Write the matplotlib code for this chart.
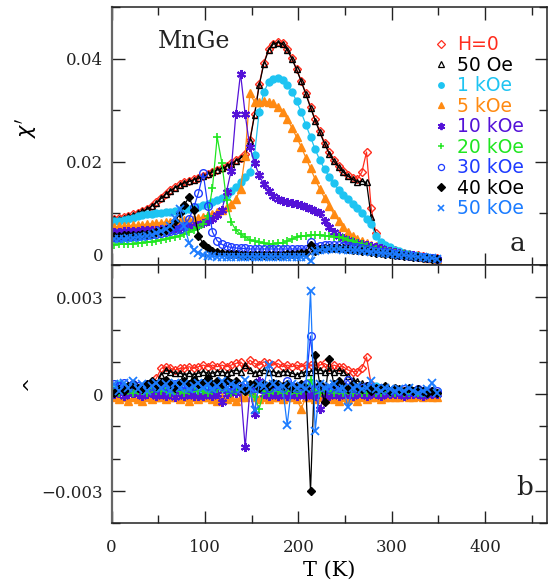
import numpy as np
import matplotlib
matplotlib.use("Agg")
import matplotlib.pyplot as plt
from matplotlib.lines import Line2D
from matplotlib.ticker import MultipleLocator, FixedLocator, FixedFormatter

# ---------------- data ----------------
T = [3, 8, 13, 18, 23, 28, 33, 38, 43, 48,
     53, 58, 63, 68, 73, 78, 83, 88, 93, 98,
     103, 108, 113, 118, 123, 128, 133, 138, 143, 148,
     153, 158, 163, 168, 173, 178, 183, 188, 193, 198,
     203, 208, 213, 218, 223, 228, 233, 238, 243, 248,
     253, 258, 263, 268, 273, 278, 283, 288, 293, 298,
     303, 308, 313, 318, 323, 328, 333, 338, 343, 348]

labels = ["H=0", "50 Oe", "1 kOe", "5 kOe", "10 kOe", "20 kOe", "30 kOe", "40 kOe", "50 kOe"]

# chi' (real part)
chi1_H0 = [0.0090, 0.0091, 0.0093, 0.0095, 0.0098, 0.0101, 0.0105, 0.0109, 0.0115, 0.0122,
           0.0130, 0.0138, 0.0145, 0.0151, 0.0156, 0.0160, 0.0163, 0.0166, 0.0169, 0.0173,
           0.0177, 0.0181, 0.0185, 0.0188, 0.0192, 0.0197, 0.0203, 0.0208, 0.0216, 0.0242,
           0.0292, 0.0350, 0.0392, 0.0418, 0.0429, 0.0432, 0.0430, 0.0418, 0.0401, 0.0380,
           0.0357, 0.0333, 0.0307, 0.0282, 0.0259, 0.0237, 0.0218, 0.0203, 0.0192, 0.0182,
           0.0174, 0.0168, 0.0166, 0.0180, 0.0219, 0.0110, 0.0062, 0.0043, 0.0036, 0.0032,
           0.0029, 0.0026, 0.0024, 0.0022, 0.0020, 0.0019, 0.0017, 0.0015, 0.0014, 0.0013]
chi1_50Oe = [0.0089, 0.0090, 0.0092, 0.0094, 0.0097, 0.0100, 0.0104, 0.0108, 0.0114, 0.0121,
             0.0129, 0.0137, 0.0144, 0.0150, 0.0155, 0.0159, 0.0162, 0.0165, 0.0168, 0.0172,
             0.0176, 0.0180, 0.0184, 0.0187, 0.0191, 0.0196, 0.0202, 0.0207, 0.0214, 0.0240,
             0.0290, 0.0348, 0.0390, 0.0416, 0.0428, 0.0431, 0.0429, 0.0417, 0.0400, 0.0379,
             0.0356, 0.0331, 0.0305, 0.0280, 0.0257, 0.0235, 0.0216, 0.0201, 0.0190, 0.0180,
             0.0172, 0.0166, 0.0161, 0.0162, 0.0160, 0.0093, 0.0058, 0.0042, 0.0036, 0.0032,
             0.0029, 0.0026, 0.0024, 0.0022, 0.0020, 0.0019, 0.0017, 0.0015, 0.0014, 0.0013]
chi1_1k = [0.0085, 0.0086, 0.0088, 0.0090, 0.0092, 0.0094, 0.0096, 0.0098, 0.0099, 0.0100,
           0.0101, 0.0102, 0.0103, 0.0104, 0.0106, 0.0107, 0.0109, 0.0111, 0.0113, 0.0116,
           0.0119, 0.0122, 0.0125, 0.0129, 0.0135, 0.0143, 0.0152, 0.0160, 0.0170, 0.0180,
           0.0213, 0.0297, 0.0335, 0.0354, 0.0361, 0.0362, 0.0358, 0.0349, 0.0336, 0.0318,
           0.0296, 0.0272, 0.0248, 0.0224, 0.0203, 0.0186, 0.0171, 0.0158, 0.0146, 0.0136,
           0.0127, 0.0118, 0.0110, 0.0100, 0.0090, 0.0079, 0.0057, 0.0044, 0.0039, 0.0034,
           0.0030, 0.0027, 0.0024, 0.0022, 0.0020, 0.0018, 0.0016, 0.0015, 0.0013, 0.0012]
chi1_5k = [0.0074, 0.0075, 0.0075, 0.0076, 0.0077, 0.0077, 0.0078, 0.0079, 0.0080, 0.0081,
           0.0082, 0.0083, 0.0084, 0.0085, 0.0086, 0.0087, 0.0088, 0.0089, 0.0091, 0.0093,
           0.0096, 0.0099, 0.0103, 0.0107, 0.0112, 0.0118, 0.0127, 0.0148, 0.0212, 0.0333,
           0.0316, 0.0316, 0.0317, 0.0316, 0.0313, 0.0306, 0.0297, 0.0283, 0.0266, 0.0248,
           0.0229, 0.0208, 0.0187, 0.0166, 0.0147, 0.0130, 0.0114, 0.0099, 0.0086, 0.0074,
           0.0064, 0.0056, 0.0050, 0.0046, 0.0042, 0.0039, 0.0036, 0.0033, 0.0030, 0.0028,
           0.0026, 0.0024, 0.0022, 0.0020, 0.0019, 0.0017, 0.0016, 0.0014, 0.0013, 0.0012]
chi1_10k = [0.0064, 0.0064, 0.0065, 0.0065, 0.0066, 0.0066, 0.0067, 0.0067, 0.0068, 0.0068,
            0.0069, 0.0069, 0.0070, 0.0071, 0.0072, 0.0073, 0.0074, 0.0076, 0.0078, 0.0081,
            0.0085, 0.0089, 0.0096, 0.0106, 0.0142, 0.0183, 0.0292, 0.0371, 0.0292, 0.0228,
            0.0198, 0.0174, 0.0156, 0.0143, 0.0134, 0.0128, 0.0124, 0.0122, 0.0120, 0.0118,
            0.0116, 0.0113, 0.0108, 0.0104, 0.0100, 0.0086, 0.0073, 0.0063, 0.0057, 0.0052,
            0.0048, 0.0045, 0.0042, 0.0040, 0.0038, 0.0036, 0.0034, 0.0032, 0.0030, 0.0028,
            0.0026, 0.0024, 0.0022, 0.0020, 0.0019, 0.0017, 0.0016, 0.0014, 0.0013, 0.0012]
chi1_20k = [0.0039, 0.0040, 0.0040, 0.0041, 0.0041, 0.0042, 0.0043, 0.0044, 0.0045, 0.0046,
            0.0048, 0.0050, 0.0052, 0.0054, 0.0057, 0.0060, 0.0063, 0.0067, 0.0072, 0.0080,
            0.0095, 0.0150, 0.0248, 0.0198, 0.0126, 0.0083, 0.0068, 0.0060, 0.0054, 0.0049,
            0.0046, 0.0044, 0.0042, 0.0041, 0.0041, 0.0042, 0.0043, 0.0046, 0.0050, 0.0054,
            0.0056, 0.0057, 0.0058, 0.0058, 0.0058, 0.0057, 0.0056, 0.0055, 0.0054, 0.0052,
            0.0049, 0.0046, 0.0043, 0.0040, 0.0037, 0.0034, 0.0031, 0.0029, 0.0027, 0.0025,
            0.0023, 0.0022, 0.0021, 0.0019, 0.0018, 0.0017, 0.0015, 0.0014, 0.0013, 0.0012]
chi1_30k = [0.0055, 0.0055, 0.0056, 0.0056, 0.0057, 0.0057, 0.0058, 0.0059, 0.0060, 0.0061,
            0.0062, 0.0063, 0.0065, 0.0067, 0.0070, 0.0076, 0.0090, 0.0112, 0.0140, 0.0178,
            0.0115, 0.0064, 0.0047, 0.0040, 0.0036, 0.0034, 0.0033, 0.0032, 0.0032, 0.0031,
            0.0031, 0.0031, 0.0031, 0.0031, 0.0031, 0.0031, 0.0031, 0.0031, 0.0031, 0.0031,
            0.0031, 0.0031, 0.0045, 0.0035, 0.0037, 0.0038, 0.0038, 0.0038, 0.0038, 0.0037,
            0.0036, 0.0035, 0.0034, 0.0032, 0.0031, 0.0029, 0.0028, 0.0026, 0.0025, 0.0023,
            0.0022, 0.0020, 0.0019, 0.0018, 0.0017, 0.0016, 0.0015, 0.0014, 0.0013, 0.0012]
chi1_40k = [0.0057, 0.0057, 0.0058, 0.0058, 0.0059, 0.0059, 0.0060, 0.0061, 0.0062, 0.0063,
            0.0065, 0.0068, 0.0073, 0.0085, 0.0100, 0.0117, 0.0132, 0.0106, 0.0057, 0.0041,
            0.0032, 0.0028, 0.0025, 0.0023, 0.0022, 0.0022, 0.0021, 0.0020, 0.0020, 0.0020,
            0.0019, 0.0019, 0.0019, 0.0019, 0.0020, 0.0020, 0.0020, 0.0021, 0.0021, 0.0022,
            0.0023, 0.0023, 0.0039, 0.0028, 0.0031, 0.0032, 0.0033, 0.0033, 0.0033, 0.0032,
            0.0031, 0.0030, 0.0029, 0.0028, 0.0027, 0.0026, 0.0024, 0.0023, 0.0022, 0.0021,
            0.0020, 0.0019, 0.0018, 0.0017, 0.0016, 0.0015, 0.0014, 0.0013, 0.0012, 0.0011]
chi1_50k = [0.0050, 0.0051, 0.0051, 0.0052, 0.0053, 0.0054, 0.0055, 0.0057, 0.0059, 0.0062,
            0.0066, 0.0070, 0.0076, 0.0091, 0.0108, 0.0075, 0.0042, 0.0029, 0.0023, 0.0020,
            0.0018, 0.0017, 0.0016, 0.0016, 0.0016, 0.0016, 0.0016, 0.0016, 0.0016, 0.0016,
            0.0016, 0.0016, 0.0016, 0.0016, 0.0016, 0.0016, 0.0016, 0.0016, 0.0016, 0.0016,
            0.0016, 0.0016, 0.0008, 0.0027, 0.0029, 0.0030, 0.0031, 0.0031, 0.0031, 0.0030,
            0.0030, 0.0029, 0.0029, 0.0028, 0.0027, 0.0026, 0.0025, 0.0024, 0.0023, 0.0022,
            0.0021, 0.0020, 0.0019, 0.0018, 0.0017, 0.0016, 0.0015, 0.0014, 0.0013, 0.0012]

# chi'' (imaginary part), in units of 1e-3
chi2_H0 = [0.15, 0.2, 0.1, 0.2, 0.15, 0.2, 0.1, 0.2, 0.3, 0.5,
           0.8, 0.85, 0.8, 0.75, 0.8, 0.8, 0.85, 0.8, 0.85, 0.9,
           0.85, 0.9, 0.85, 0.9, 0.85, 0.9, 0.95, 1.0, 0.85, 1.05,
           0.95, 0.9, 1.0, 0.95, 0.9, 0.95, 0.85, 0.9, 0.85, 0.9,
           0.85, 0.9, 0.9, 0.9, 0.9, 0.95, 0.85, 0.9, 0.85, 0.85,
           0.75, 0.7, 0.7, 0.8, 1.15, 0.3, 0.2, 0.15, 0.1, 0.1,
           0.1, 0.05, 0.1, 0.05, 0.05, 0.1, 0.05, 0.05, 0.0, 0.05]
chi2_50Oe = [0.1, 0.15, 0.1, 0.1, 0.15, 0.1, 0.1, 0.15, 0.2, 0.35,
             0.6, 0.75, 0.7, 0.65, 0.65, 0.6, 0.65, 0.6, 0.65, 0.7,
             0.65, 0.65, 0.7, 0.7, 0.65, 0.7, 0.75, 0.7, 0.9, 0.75,
             0.65, 0.7, 0.75, 0.7, 0.7, 0.65, 0.7, 0.7, 0.65, 0.6,
             0.65, 0.7, 0.7, 0.75, 0.75, 0.7, 0.75, 0.7, 0.75, 0.7,
             0.55, 0.45, 0.4, 0.35, 0.15, 0.05, 0.05, 0.0, 0.05, 0.0,
             0.0, 0.05, 0.0, 0.0, 0.05, 0.0, 0.0, 0.05, 0.0, 0.0]
chi2_1k = [0.2, 0.3, 0.2, 0.25, 0.2, 0.15, 0.2, 0.15, 0.1, 0.15,
           0.1, 0.15, 0.1, 0.1, 0.15, 0.1, 0.1, 0.15, 0.1, 0.1,
           0.15, 0.1, 0.1, 0.15, 0.1, 0.1, 0.15, 0.1, 0.2, 0.25,
           0.2, 0.15, 0.1, 0.1, 0.15, 0.1, 0.1, 0.15, 0.1, 0.2,
           0.15, 0.1, 0.35, 0.2, 0.1, 0.15, 0.1, 0.1, 0.15, 0.1,
           0.1, 0.1, 0.1, 0.15, 0.15, 0.2, 0.25, 0.15, 0.1, 0.1,
           0.05, 0.1, 0.05, 0.05, 0.1, 0.05, 0.05, 0.1, 0.05, 0.05]
chi2_5k = [-0.1, -0.15, -0.1, -0.2, -0.1, -0.15, -0.2, -0.1, -0.15, -0.1,
           -0.1, -0.15, -0.1, -0.1, -0.15, -0.1, -0.2, -0.1, -0.15, -0.1,
           -0.1, -0.15, -0.2, -0.1, -0.15, -0.1, -0.2, -0.1, -0.1, 0.1,
           -0.1, -0.15, -0.1, -0.15, -0.1, -0.1, -0.15, -0.1, -0.1, -0.15,
           -0.45, -0.1, -0.1, -0.15, -0.1, -0.15, -0.1, -0.15, -0.2, -0.1,
           -0.15, -0.1, -0.2, -0.1, -0.15, -0.1, -0.1, -0.15, -0.1, -0.1,
           -0.1, -0.1, -0.05, -0.1, -0.1, -0.05, -0.1, -0.05, -0.1, -0.1]
chi2_10k = [0.0, 0.05, -0.05, 0.0, 0.05, 0.0, -0.05, 0.0, 0.05, -0.05,
            0.0, -0.05, 0.0, -0.1, 0.0, -0.05, 0.0, -0.05, -0.05, -0.05,
            0.0, -0.05, 0.0, -0.25, 0.0, 0.1, 0.05, 0.2, -1.65, 0.1,
            -0.6, 0.4, 0.0, -0.05, 0.0, -0.05, 0.0, -0.05, 0.0, -0.05,
            0.0, -0.05, 0.0, -0.05, -0.45, 0.0, -0.05, 0.0, -0.05, 0.0,
            0.0, -0.05, 0.0, 0.0, -0.05, 0.0, 0.0, -0.05, 0.0, 0.0,
            0.0, 0.0, -0.05, 0.0, 0.0, 0.0, -0.05, 0.0, 0.0, 0.0]
chi2_20k = [0.1, 0.05, 0.15, 0.1, 0.05, 0.1, 0.1, 0.05, 0.15, 0.1,
            0.1, 0.15, 0.05, 0.1, 0.1, 0.05, 0.1, 0.15, 0.1, 0.1,
            0.05, 0.1, 0.15, 0.2, 0.1, 0.05, 0.1, 0.15, 0.1, 0.05,
            -0.1, -0.45, 0.1, 0.05, 0.1, 0.1, 0.05, 0.1, 0.1, 0.05,
            0.1, 0.1, 0.45, 0.1, 0.05, 0.1, 0.1, 0.05, 0.1, 0.05,
            0.1, 0.05, 0.1, 0.05, 0.05, 0.1, 0.05, 0.05, 0.1, 0.05,
            0.05, 0.1, 0.05, 0.05, 0.1, 0.05, 0.05, 0.05, 0.1, 0.05]
chi2_30k = [0.3, 0.25, 0.35, 0.2, 0.3, 0.25, 0.2, 0.3, 0.25, 0.2,
            0.3, 0.25, 0.2, 0.3, 0.25, 0.3, 0.2, 0.25, 0.3, 0.35,
            0.25, 0.2, 0.3, 0.25, 0.2, 0.15, 0.2, 0.25, 0.2, 0.15,
            0.2, 0.25, 0.15, 0.2, 0.3, 0.25, 0.2, 0.4, 0.25, 0.2,
            0.25, 0.3, 1.8, 0.2, 0.25, 0.2, 0.15, 0.25, 0.2, 0.2,
            0.45, 0.2, 0.15, 0.2, 0.25, 0.2, 0.15, 0.2, 0.15, 0.1,
            0.15, 0.1, 0.15, 0.1, 0.1, 0.15, 0.1, 0.05, 0.1, 0.1]
chi2_40k = [0.05, 0.15, 0.1, 0.25, 0.3, 0.2, 0.15, 0.3, 0.4, 0.25,
            0.35, 0.45, 0.3, 0.2, 0.35, 0.4, 0.3, 0.45, 0.3, 0.35,
            0.5, 0.3, 0.4, 0.3, 0.45, 0.35, 0.4, 0.2, 0.1, 0.3,
            0.35, 0.2, 0.3, 0.25, 0.35, 0.3, 0.25, 0.3, 0.2, 0.25,
            0.3, 0.2, -3.0, 1.2, 0.3, -0.25, 1.1, 0.3, 0.4, 0.25,
            0.15, 0.3, 0.2, 0.15, 0.25, 0.1, 0.2, 0.15, 0.25, 0.1,
            0.2, 0.15, 0.1, 0.2, 0.1, 0.15, 0.1, 0.05, 0.1, 0.05]
chi2_50k = [0.3, 0.1, 0.35, 0.2, 0.4, 0.15, 0.3, 0.1, 0.25, 0.35,
            0.2, 0.3, 0.1, 0.35, 0.2, 0.3, 0.15, 0.25, 0.35, 0.2,
            0.3, 0.15, 0.25, 0.4, 0.2, 0.3, 0.25, 0.15, 0.45, 0.2,
            -0.5, 0.3, 0.25, 0.9, 0.3, 0.2, 0.25, -0.95, 0.3, 0.2,
            0.25, 0.15, 3.2, -1.15, 0.3, 0.2, 0.25, 0.3, 0.15, 0.2,
            -0.4, 0.2, 0.25, 0.15, 0.2, 0.4, 0.15, 0.1, 0.2, 0.15,
            0.1, 0.15, 0.1, 0.2, 0.1, 0.05, 0.1, 0.15, 0.35, 0.05]

chi1_all = [chi1_H0, chi1_50Oe, chi1_1k, chi1_5k, chi1_10k, chi1_20k, chi1_30k, chi1_40k, chi1_50k]
chi2_all = [chi2_H0, chi2_50Oe, chi2_1k, chi2_5k, chi2_10k, chi2_20k, chi2_30k, chi2_40k, chi2_50k]

# ---------------- styles ----------------
colors = ["#ff2d1e", "#000000", "#1ec4f2", "#ff8a12", "#5412d8", "#20e620", "#1f3cff", "#000000", "#1c7cff"]
markers = ["D", "^", "o", "^", (6, 2, 0), "+", "o", "D", "x"]
filled = [False, False, True, True, True, True, False, True, True]
msizes = [4.5, 5.0, 5.0, 6.0, 6.5, 6.0, 5.5, 4.5, 5.5]
mews = [1.0, 1.0, 1.0, 1.0, 1.5, 1.2, 1.0, 1.0, 1.3]

plt.rcParams["font.family"] = "DejaVu Sans"
serif = "DejaVu Serif"

fig = plt.figure(figsize=(5.48, 5.81), dpi=100)
ax1 = fig.add_axes([0.2038, 0.5439, 0.7938, 0.4441])
ax2 = fig.add_axes([0.2038, 0.0993, 0.7938, 0.4446])

for i in range(9):
    mfc = colors[i] if filled[i] else "none"
    kw = dict(color=colors[i], lw=0.9, marker=markers[i], ms=msizes[i],
              mfc=mfc, mec=colors[i], mew=mews[i])
    ax1.plot(T, chi1_all[i], **kw)
    ax2.plot(T, np.array(chi2_all[i]) * 1e-3, **kw)

for ax in (ax1, ax2):
    ax.set_xlim(0, 466)
    ax.xaxis.set_major_locator(MultipleLocator(100))
    ax.xaxis.set_minor_locator(MultipleLocator(50))
    ax.tick_params(which="both", direction="in", top=True, right=True,
                   labelsize=12, width=1.0, colors="#222222", labelcolor="#222222")
    ax.tick_params(which="major", length=9)
    ax.tick_params(which="minor", length=6)
    ax.tick_params(axis="y", pad=6)
    ax.tick_params(axis="x", pad=11)
    for s in ax.spines.values():
        s.set_linewidth(1.1)
        s.set_color("#222222")
    ax.spines["left"].set_color("#666666")
    ax.spines["left"].set_linewidth(1.6)

ax1.set_ylim(0, 0.05)
ax1.yaxis.set_major_locator(FixedLocator([0, 0.02, 0.04]))
ax1.yaxis.set_major_formatter(FixedFormatter(["0", "0.02", "0.04"]))
ax1.yaxis.set_minor_locator(MultipleLocator(0.01))
ax1.tick_params(axis="x", labelbottom=False)

ax2.set_ylim(-0.004, 0.004)
ax2.yaxis.set_major_locator(FixedLocator([-0.003, 0, 0.003]))
ax2.yaxis.set_major_formatter(FixedFormatter(["\u22120.003", "0", "0.003"]))
ax2.yaxis.set_minor_locator(MultipleLocator(0.001))

for ax in (ax1, ax2):
    for lab in ax.get_yticklabels() + ax.get_xticklabels():
        lab.set_family(serif)

for lab in ax1.get_yticklabels():
    if lab.get_text() == "0":
        lab.set_verticalalignment("bottom")

ax2.set_xlabel("T (K)", fontsize=15, family=serif, labelpad=4)
ax1.set_ylabel(r"$\chi'$", fontsize=15, rotation=90)
ax1.yaxis.set_label_coords(-0.168, 0.53)
ax2.set_ylabel("^", fontsize=13, rotation=90)
ax2.yaxis.set_label_coords(-0.168, 0.54)

ax1.text(0.189, 0.868, "MnGe", transform=ax1.transAxes, fontsize=17, family=serif,
         ha="center", va="center", color="#222222")
ax1.text(0.934, 0.085, "a", transform=ax1.transAxes, fontsize=19, family=serif,
         ha="center", va="center", color="#222222")
ax2.text(0.950, 0.14, "b", transform=ax2.transAxes, fontsize=19, family=serif,
         ha="center", va="center", color="#222222")

handles = []
for i in range(9):
    mfc = colors[i] if filled[i] else "none"
    handles.append(Line2D([], [], ls="none", marker=markers[i], ms=msizes[i] * 0.8,
                          mfc=mfc, mec=colors[i], mew=mews[i] * 0.9))
ax1.legend(handles, labels, loc="upper left", bbox_to_anchor=(0.745, 0.89),
           frameon=False, fontsize=13.5, handlelength=0.6, handletextpad=0.55,
           labelspacing=0.08, borderpad=0, borderaxespad=0, labelcolor=colors)

fig.savefig("out.png", dpi=100)
